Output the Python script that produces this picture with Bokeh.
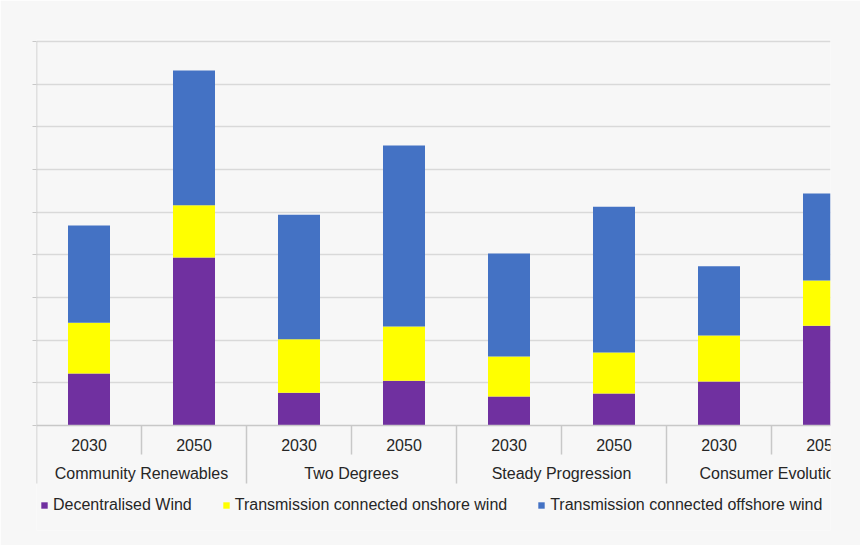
from bokeh.plotting import figure
from bokeh.models import ColumnDataSource, Range1d, FixedTicker, Span, Legend, LegendItem
from bokeh.core.properties import value
from bokeh.embed import file_html
from bokeh.resources import INLINE

groups = ["Community Renewables", "Two Degrees", "Steady Progression", "Consumer Evolution"]
years = ["2030", "2050"]
decentralised = [1.22, 3.94, 0.77, 1.05, 0.68, 0.75, 1.03, 2.34]
onshore = [1.19, 1.22, 1.25, 1.27, 0.94, 0.96, 1.08, 1.06]
offshore = [2.28, 3.16, 2.92, 4.24, 2.41, 3.42, 1.62, 2.04]
series = ["Decentralised Wind", "Transmission connected onshore wind", "Transmission connected offshore wind"]
colors = ["#7030a0", "#ffff00", "#4472c4"]
grid_ticks = [0, 1, 2, 3, 4, 5, 6, 7, 8, 9]

FONT = "Liberation Sans"
TXT = "#262626"
BG = "#f7f7f7"
LINE = "#c8c8c8"

PX = 42.67           # pixels per y unit
TOP_PAD = 2          # px above the top gridline
FRAME_H = 491
y_top = 9 + TOP_PAD / PX
y_bot = y_top - FRAME_H / PX
CAT_W = 105
FRAME_W = 794

ncat = len(groups) * len(years)
xs = [i + 0.5 for i in range(ncat)]
src = ColumnDataSource(dict(x=xs, d=decentralised, on=onshore, off=offshore))

p = figure(width=860, height=545, output_backend="svg", toolbar_location=None,
           x_range=Range1d(0, FRAME_W / CAT_W), y_range=Range1d(y_bot, y_top),
           min_border_left=36, min_border_right=30, min_border_top=39, min_border_bottom=15)
p.background_fill_color = BG
p.border_fill_color = BG
p.outline_line_color = None

p.xaxis.visible = False
p.xgrid.visible = False
p.ygrid.ticker = FixedTicker(ticks=grid_ticks[1:])
p.ygrid.grid_line_color = "#d9d9d9"
p.ygrid.grid_line_width = 1.5

ax = p.yaxis[0]
ax.ticker = FixedTicker(ticks=grid_ticks)
ax.axis_line_color = None
ax.major_tick_line_color = LINE
ax.major_tick_out = 4
ax.major_tick_in = 0
ax.minor_tick_line_color = None
ax.major_label_text_font_size = "0px"
ax.major_label_text_color = None

renderers = p.vbar_stack(["d", "on", "off"], x="x", width=0.4, source=src,
                         color=colors, line_color=None)

p.add_layout(Span(location=0, dimension="width", line_color=LINE, line_width=1.5))

# vertical axis line + separators
year_sep_len = 29 / PX
grp_sep_len = 58 / PX
sx0, sy0, sy1 = [0], [grp_sep_len * -1], [9]
for g in range(len(groups)):
    sx0.append(2 * g + 1); sy0.append(-year_sep_len); sy1.append(0)
    if g > 0:
        sx0.append(2 * g); sy0.append(-grp_sep_len); sy1.append(0)
p.segment(x0=sx0, y0=sy0, x1=sx0, y1=sy1, line_color=LINE, line_width=1.5)

year_labels = [years[i % 2] for i in range(ncat)]
p.text(x=xs, y=[-19 / PX] * ncat, text=year_labels, text_align="center", text_baseline="middle",
       text_font=value(FONT), text_font_size="16px", text_color=TXT)
p.text(x=[2 * g + 1 for g in range(len(groups))], y=[-48 / PX] * len(groups), text=groups,
       text_align="center", text_baseline="middle",
       text_font=value(FONT), text_font_size="16px", text_color=TXT)

legend = Legend(items=[LegendItem(label=s, renderers=[r]) for s, r in zip(series, renderers)],
                orientation="horizontal", location=(4, 16), padding=0, margin=0,
                spacing=30, label_standoff=5, glyph_width=8, glyph_height=8, label_height=16,
                label_text_font=FONT, label_text_font_size="16px", label_text_color=TXT,
                background_fill_alpha=0, border_line_color=None)
p.add_layout(legend)

open("out.html", "w").write(file_html(p, INLINE))
